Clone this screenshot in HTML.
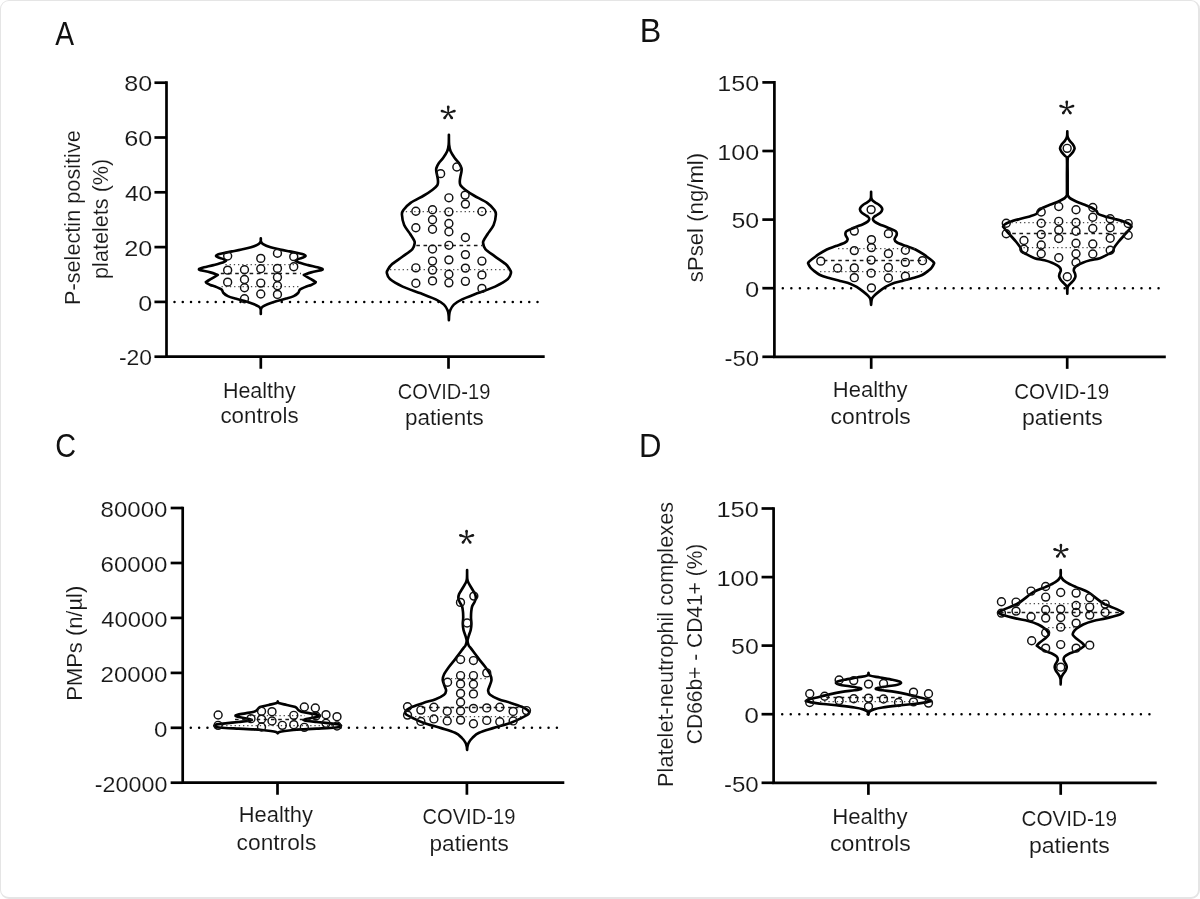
<!DOCTYPE html>
<html><head><meta charset="utf-8"><title>Figure</title>
<style>
html,body{margin:0;padding:0;background:#fff;}
body{width:1200px;height:899px;overflow:hidden;font-family:"Liberation Sans",sans-serif;}
#frame{position:absolute;left:0;top:0;width:1197px;height:896px;border:solid #e5e5e5;border-width:1px 2px 2px 1px;border-radius:9px;box-sizing:content-box;background:#fff;}
svg{position:absolute;left:0;top:0;will-change:transform;}
svg text{font-family:"Liberation Sans",sans-serif;stroke:#fff;stroke-width:0.11px;paint-order:fill stroke;}
</style></head><body>
<div id="frame"></div>
<svg width="1200" height="899" viewBox="0 0 1200 899">
<text transform="translate(55.25,44.75) scale(0.8544,1)" font-size="33" fill="#111" style="stroke:none">A</text>
<text transform="translate(639.67,42.00) scale(0.9771,1)" font-size="33" fill="#111" style="stroke:none">B</text>
<text transform="translate(55.31,457.30) scale(0.8453,1)" font-size="34" fill="#111" style="stroke:none">C</text>
<text transform="translate(639.01,457.00) scale(0.9422,1)" font-size="33" fill="#111" style="stroke:none">D</text>
<line x1="174.50" y1="301.90" x2="537.51" y2="301.90" stroke="#000" stroke-width="2.5" stroke-linecap="round" stroke-dasharray="0.01,8.240"/>
<path d="M260.80,238.30C260.82,238.82 260.57,240.42 260.95,241.40C261.33,242.38 261.49,243.22 263.10,244.20C264.71,245.18 267.78,246.42 270.60,247.30C273.42,248.18 276.87,248.82 280.00,249.50C283.13,250.18 286.28,250.78 289.40,251.40C292.53,252.03 296.37,252.73 298.75,253.25C301.13,253.77 302.56,254.03 303.70,254.50C304.84,254.97 305.70,255.58 305.60,256.10C305.50,256.62 304.25,257.13 303.10,257.60C301.95,258.07 299.95,258.38 298.70,258.90C297.45,259.42 296.12,260.44 295.60,260.75C296.12,261.06 296.62,261.88 298.70,262.60C300.78,263.33 304.97,264.32 308.10,265.10C311.23,265.88 315.18,266.70 317.50,267.30C319.82,267.90 321.17,268.37 322.00,268.70C322.83,269.03 322.62,269.07 322.50,269.30C322.38,269.53 323.18,269.58 321.30,270.10C319.43,270.62 314.17,271.60 311.25,272.40C308.33,273.20 305.04,274.48 303.80,274.90C304.83,275.52 308.13,277.50 310.00,278.60C311.87,279.70 314.07,280.90 315.00,281.50C315.93,282.10 315.72,281.88 315.60,282.20C315.48,282.52 315.03,282.95 314.30,283.40C313.57,283.85 312.80,284.28 311.25,284.90C309.70,285.52 306.88,286.32 305.00,287.10C303.12,287.88 301.15,288.62 300.00,289.60C298.85,290.58 299.14,291.92 298.10,293.00C297.06,294.08 295.73,295.17 293.75,296.10C291.77,297.03 289.06,297.77 286.25,298.60C283.44,299.43 280.03,300.16 276.90,301.10C273.78,302.04 269.90,303.31 267.50,304.25C265.10,305.19 263.59,305.92 262.50,306.75C261.41,307.58 261.23,308.06 260.95,309.25C260.67,310.44 260.82,313.12 260.80,313.90C260.78,313.12 260.93,310.44 260.65,309.25C260.37,308.06 260.19,307.58 259.10,306.75C258.01,305.92 256.50,305.19 254.10,304.25C251.70,303.31 247.82,302.04 244.70,301.10C241.57,300.16 238.16,299.43 235.35,298.60C232.54,297.77 229.83,297.03 227.85,296.10C225.88,295.17 224.54,294.08 223.50,293.00C222.46,291.92 222.75,290.58 221.60,289.60C220.45,288.62 218.48,287.88 216.60,287.10C214.73,286.32 211.90,285.52 210.35,284.90C208.80,284.28 208.03,283.85 207.30,283.40C206.58,282.95 206.12,282.52 206.00,282.20C205.88,281.88 205.67,282.10 206.60,281.50C207.53,280.90 209.73,279.70 211.60,278.60C213.47,277.50 216.77,275.52 217.80,274.90C216.56,274.48 213.27,273.20 210.35,272.40C207.43,271.60 202.18,270.62 200.30,270.10C198.43,269.58 199.22,269.53 199.10,269.30C198.98,269.07 198.77,269.03 199.60,268.70C200.43,268.37 201.78,267.90 204.10,267.30C206.42,266.70 210.37,265.88 213.50,265.10C216.63,264.32 220.82,263.33 222.90,262.60C224.98,261.88 225.48,261.06 226.00,260.75C225.48,260.44 224.15,259.42 222.90,258.90C221.65,258.38 219.65,258.07 218.50,257.60C217.35,257.13 216.10,256.62 216.00,256.10C215.90,255.58 216.76,254.97 217.90,254.50C219.04,254.03 220.47,253.77 222.85,253.25C225.23,252.73 229.07,252.03 232.20,251.40C235.32,250.78 238.47,250.18 241.60,249.50C244.73,248.82 248.18,248.18 251.00,247.30C253.82,246.42 256.89,245.18 258.50,244.20C260.11,243.22 260.27,242.38 260.65,241.40C261.03,240.42 260.78,238.82 260.80,238.30Z" fill="#fff" stroke="#000" stroke-width="2.65" stroke-linejoin="round" stroke-linecap="round"/>
<line x1="225.40" y1="264.50" x2="298.80" y2="264.50" stroke="#4a4a4a" stroke-width="1.25" stroke-dasharray="1.3,2.9"/>
<line x1="220.80" y1="273.50" x2="300.80" y2="273.50" stroke="#1a1a1a" stroke-width="1.35" stroke-dasharray="3.6,3.6"/>
<line x1="221.50" y1="286.50" x2="300.00" y2="286.50" stroke="#4a4a4a" stroke-width="1.25" stroke-dasharray="1.3,2.9"/>
<circle cx="227.66" cy="255.97" r="3.95" fill="none" stroke="#111" stroke-width="1.45"/>
<circle cx="227.66" cy="270.13" r="3.95" fill="none" stroke="#111" stroke-width="1.45"/>
<circle cx="227.66" cy="282.14" r="3.95" fill="none" stroke="#111" stroke-width="1.45"/>
<circle cx="244.49" cy="269.73" r="3.95" fill="none" stroke="#111" stroke-width="1.45"/>
<circle cx="244.49" cy="279.47" r="3.95" fill="none" stroke="#111" stroke-width="1.45"/>
<circle cx="244.49" cy="287.75" r="3.95" fill="none" stroke="#111" stroke-width="1.45"/>
<circle cx="244.49" cy="298.70" r="3.95" fill="none" stroke="#111" stroke-width="1.45"/>
<circle cx="260.77" cy="258.38" r="3.95" fill="none" stroke="#111" stroke-width="1.45"/>
<circle cx="260.77" cy="268.79" r="3.95" fill="none" stroke="#111" stroke-width="1.45"/>
<circle cx="260.77" cy="283.08" r="3.95" fill="none" stroke="#111" stroke-width="1.45"/>
<circle cx="260.77" cy="294.03" r="3.95" fill="none" stroke="#111" stroke-width="1.45"/>
<circle cx="277.46" cy="253.30" r="3.95" fill="none" stroke="#111" stroke-width="1.45"/>
<circle cx="277.46" cy="268.39" r="3.95" fill="none" stroke="#111" stroke-width="1.45"/>
<circle cx="277.46" cy="277.34" r="3.95" fill="none" stroke="#111" stroke-width="1.45"/>
<circle cx="277.46" cy="285.75" r="3.95" fill="none" stroke="#111" stroke-width="1.45"/>
<circle cx="277.46" cy="294.43" r="3.95" fill="none" stroke="#111" stroke-width="1.45"/>
<circle cx="293.75" cy="256.64" r="3.95" fill="none" stroke="#111" stroke-width="1.45"/>
<circle cx="293.75" cy="266.79" r="3.95" fill="none" stroke="#111" stroke-width="1.45"/>
<path d="M448.90,134.80C448.93,136.45 448.82,141.95 449.10,144.70C449.38,147.45 449.67,149.08 450.60,151.30C451.53,153.52 453.32,156.05 454.70,158.00C456.08,159.95 457.78,161.33 458.90,163.00C460.02,164.67 460.97,166.62 461.40,168.00C461.83,169.38 461.65,169.92 461.50,171.30C461.35,172.68 460.78,174.68 460.50,176.30C460.22,177.92 459.80,179.50 459.80,181.00C459.80,182.50 459.60,183.85 460.50,185.30C461.40,186.75 462.97,188.00 465.20,189.70C467.43,191.40 470.23,193.30 473.90,195.50C477.57,197.70 483.79,200.48 487.20,202.90C490.61,205.32 492.94,208.08 494.38,210.02C495.83,211.95 496.01,212.02 495.89,214.52C495.76,217.02 495.01,221.78 493.63,225.03C492.26,228.28 489.25,231.54 487.63,234.04C486.00,236.54 484.62,238.54 483.87,240.05C483.12,241.55 482.87,241.55 483.12,243.05C483.37,244.55 483.37,246.80 485.38,249.05C487.38,251.31 491.76,254.06 495.14,256.56C498.51,259.06 503.14,261.82 505.65,264.07C508.15,266.32 509.27,268.57 510.15,270.08C511.03,271.58 511.28,271.58 510.90,273.08C510.53,274.58 510.53,276.83 507.90,279.08C505.27,281.34 500.27,284.21 495.14,286.59C490.01,288.97 482.62,291.22 477.12,293.35C471.61,295.48 465.98,297.48 462.10,299.35C458.22,301.23 455.85,302.73 453.84,304.61C451.84,306.49 450.87,308.86 450.09,310.62C449.31,312.37 449.39,313.54 449.19,315.12C448.99,316.71 448.94,319.29 448.89,320.13C448.84,319.29 448.81,316.71 448.61,315.12C448.41,313.54 448.49,312.37 447.71,310.62C446.93,308.86 445.96,306.49 443.96,304.61C441.95,302.73 439.58,301.23 435.70,299.35C431.82,297.48 426.19,295.48 420.68,293.35C415.18,291.22 407.79,288.97 402.66,286.59C397.53,284.21 392.53,281.34 389.90,279.08C387.27,276.83 387.27,274.58 386.90,273.08C386.52,271.58 386.77,271.58 387.65,270.08C388.53,268.57 389.65,266.32 392.15,264.07C394.66,261.82 399.29,259.06 402.66,256.56C406.04,254.06 410.42,251.31 412.42,249.05C414.43,246.80 414.43,244.55 414.68,243.05C414.93,241.55 414.68,241.55 413.93,240.05C413.18,238.54 411.80,236.54 410.17,234.04C408.55,231.54 405.54,228.28 404.17,225.03C402.79,221.78 402.04,217.02 401.91,214.52C401.79,212.02 401.97,211.95 403.42,210.02C404.86,208.08 407.19,205.32 410.60,202.90C414.01,200.48 420.23,197.70 423.90,195.50C427.57,193.30 430.37,191.40 432.60,189.70C434.83,188.00 436.40,186.75 437.30,185.30C438.20,183.85 438.00,182.50 438.00,181.00C438.00,179.50 437.58,177.92 437.30,176.30C437.02,174.68 436.45,172.68 436.30,171.30C436.15,169.92 435.97,169.38 436.40,168.00C436.83,166.62 437.78,164.67 438.90,163.00C440.02,161.33 441.72,159.95 443.10,158.00C444.48,156.05 446.27,153.52 447.20,151.30C448.13,149.08 448.42,147.45 448.70,144.70C448.98,141.95 448.87,136.45 448.90,134.80Z" fill="#fff" stroke="#000" stroke-width="2.65" stroke-linejoin="round" stroke-linecap="round"/>
<line x1="405.80" y1="211.50" x2="493.63" y2="211.50" stroke="#4a4a4a" stroke-width="1.25" stroke-dasharray="1.3,2.9"/>
<line x1="416.31" y1="245.50" x2="482.37" y2="245.50" stroke="#1a1a1a" stroke-width="1.35" stroke-dasharray="3.6,3.6"/>
<line x1="390.03" y1="269.50" x2="508.65" y2="269.50" stroke="#4a4a4a" stroke-width="1.25" stroke-dasharray="1.3,2.9"/>
<circle cx="456.85" cy="167.03" r="3.95" fill="none" stroke="#111" stroke-width="1.45"/>
<circle cx="440.63" cy="173.63" r="3.95" fill="none" stroke="#111" stroke-width="1.45"/>
<circle cx="448.89" cy="197.81" r="3.95" fill="none" stroke="#111" stroke-width="1.45"/>
<circle cx="465.11" cy="195.11" r="3.95" fill="none" stroke="#111" stroke-width="1.45"/>
<circle cx="465.41" cy="204.11" r="3.95" fill="none" stroke="#111" stroke-width="1.45"/>
<circle cx="415.86" cy="211.22" r="3.95" fill="none" stroke="#111" stroke-width="1.45"/>
<circle cx="415.86" cy="227.73" r="3.95" fill="none" stroke="#111" stroke-width="1.45"/>
<circle cx="415.86" cy="267.82" r="3.95" fill="none" stroke="#111" stroke-width="1.45"/>
<circle cx="415.86" cy="283.29" r="3.95" fill="none" stroke="#111" stroke-width="1.45"/>
<circle cx="432.52" cy="209.71" r="3.95" fill="none" stroke="#111" stroke-width="1.45"/>
<circle cx="432.52" cy="219.77" r="3.95" fill="none" stroke="#111" stroke-width="1.45"/>
<circle cx="432.52" cy="229.23" r="3.95" fill="none" stroke="#111" stroke-width="1.45"/>
<circle cx="432.52" cy="249.05" r="3.95" fill="none" stroke="#111" stroke-width="1.45"/>
<circle cx="432.52" cy="261.07" r="3.95" fill="none" stroke="#111" stroke-width="1.45"/>
<circle cx="432.52" cy="270.08" r="3.95" fill="none" stroke="#111" stroke-width="1.45"/>
<circle cx="432.52" cy="280.89" r="3.95" fill="none" stroke="#111" stroke-width="1.45"/>
<circle cx="448.89" cy="211.82" r="3.95" fill="none" stroke="#111" stroke-width="1.45"/>
<circle cx="448.89" cy="223.53" r="3.95" fill="none" stroke="#111" stroke-width="1.45"/>
<circle cx="448.89" cy="231.79" r="3.95" fill="none" stroke="#111" stroke-width="1.45"/>
<circle cx="448.89" cy="245.30" r="3.95" fill="none" stroke="#111" stroke-width="1.45"/>
<circle cx="448.89" cy="259.86" r="3.95" fill="none" stroke="#111" stroke-width="1.45"/>
<circle cx="448.89" cy="274.28" r="3.95" fill="none" stroke="#111" stroke-width="1.45"/>
<circle cx="448.89" cy="282.84" r="3.95" fill="none" stroke="#111" stroke-width="1.45"/>
<circle cx="465.41" cy="237.49" r="3.95" fill="none" stroke="#111" stroke-width="1.45"/>
<circle cx="465.41" cy="254.61" r="3.95" fill="none" stroke="#111" stroke-width="1.45"/>
<circle cx="465.41" cy="268.12" r="3.95" fill="none" stroke="#111" stroke-width="1.45"/>
<circle cx="465.41" cy="281.34" r="3.95" fill="none" stroke="#111" stroke-width="1.45"/>
<circle cx="481.92" cy="211.52" r="3.95" fill="none" stroke="#111" stroke-width="1.45"/>
<circle cx="481.92" cy="261.07" r="3.95" fill="none" stroke="#111" stroke-width="1.45"/>
<circle cx="481.92" cy="274.88" r="3.95" fill="none" stroke="#111" stroke-width="1.45"/>
<circle cx="481.92" cy="288.39" r="3.95" fill="none" stroke="#111" stroke-width="1.45"/>
<path d="M166.50,81.35V356.70H544.70" fill="none" stroke="#000" stroke-width="2.7" stroke-linejoin="miter"/>
<path d="M165.15,358.05h2.7" stroke="#000" stroke-width="0"/>
<line x1="154.45" y1="82.70" x2="166.50" y2="82.70" stroke="#000" stroke-width="2.7"/>
<line x1="154.45" y1="137.50" x2="166.50" y2="137.50" stroke="#000" stroke-width="2.7"/>
<line x1="154.45" y1="192.30" x2="166.50" y2="192.30" stroke="#000" stroke-width="2.7"/>
<line x1="154.45" y1="247.10" x2="166.50" y2="247.10" stroke="#000" stroke-width="2.7"/>
<line x1="154.45" y1="301.90" x2="166.50" y2="301.90" stroke="#000" stroke-width="2.7"/>
<line x1="154.45" y1="356.70" x2="166.50" y2="356.70" stroke="#000" stroke-width="2.7"/>
<line x1="260.80" y1="356.70" x2="260.80" y2="368.75" stroke="#000" stroke-width="2.7"/>
<line x1="448.50" y1="356.70" x2="448.50" y2="368.75" stroke="#000" stroke-width="2.7"/>
<text transform="translate(124.27,91.30) scale(1.1176,1)" font-size="22.5" fill="#181818">80</text>
<text transform="translate(124.14,146.10) scale(1.1230,1)" font-size="22.5" fill="#181818">60</text>
<text transform="translate(124.91,200.90) scale(1.0911,1)" font-size="22.5" fill="#181818">40</text>
<text transform="translate(124.14,255.70) scale(1.1230,1)" font-size="22.5" fill="#181818">20</text>
<text transform="translate(138.19,310.50) scale(1.1204,1)" font-size="22.5" fill="#181818">0</text>
<text transform="translate(118.97,365.30) scale(1.0191,1)" font-size="22.5" fill="#181818">-20</text>
<text transform="translate(222.88,397.50) scale(0.9778,1)" font-size="22" fill="#181818">Healthy</text>
<text transform="translate(220.41,423.40) scale(1.0166,1)" font-size="22" fill="#181818">controls</text>
<text transform="translate(397.80,399.10) scale(0.9131,1)" font-size="22" fill="#181818">COVID-19</text>
<text transform="translate(405.04,425.30) scale(1.0212,1)" font-size="22" fill="#181818">patients</text>
<text transform="translate(80.00,305.04) rotate(-90) scale(0.9870,1)" font-size="22" fill="#181818">P-selectin positive</text>
<text transform="translate(108.00,278.91) rotate(-90) scale(0.9836,1)" font-size="22" fill="#181818">platelets (%)</text>
<path d="M448.85,113.00 L449.50,106.70 L446.90,106.70 L447.55,113.00Z" fill="#181818"/>
<circle cx="448.20" cy="106.70" r="1.3" fill="#181818"/>
<path d="M448.40,113.62 L454.88,112.20 L454.08,109.72 L448.00,112.38Z" fill="#181818"/>
<circle cx="454.48" cy="110.96" r="1.3" fill="#181818"/>
<path d="M448.40,112.38 L442.32,109.72 L441.52,112.20 L448.00,113.62Z" fill="#181818"/>
<circle cx="441.92" cy="110.96" r="1.3" fill="#181818"/>
<path d="M447.67,113.38 L450.79,118.78 L452.90,117.25 L448.73,112.62Z" fill="#181818"/>
<circle cx="451.84" cy="118.02" r="1.3" fill="#181818"/>
<path d="M447.67,112.62 L443.50,117.25 L445.61,118.78 L448.73,113.38Z" fill="#181818"/>
<circle cx="444.56" cy="118.02" r="1.3" fill="#181818"/>
<line x1="782.80" y1="288.20" x2="1158.57" y2="288.20" stroke="#000" stroke-width="2.5" stroke-linecap="round" stroke-dasharray="0.01,8.530"/>
<path d="M871.10,191.82C871.13,192.80 871.02,196.29 871.25,197.73C871.48,199.16 871.83,199.66 872.45,200.43C873.08,201.21 873.88,201.63 875.01,202.39C876.13,203.14 878.11,204.09 879.21,204.94C880.31,205.79 881.12,206.74 881.62,207.49C882.12,208.25 882.37,208.62 882.22,209.45C882.07,210.27 881.57,211.53 880.72,212.45C879.86,213.38 878.19,214.30 877.11,215.01C876.03,215.71 874.96,215.98 874.26,216.66C873.55,217.33 872.85,218.24 872.90,219.06C872.95,219.89 873.50,220.77 874.56,221.62C875.61,222.47 877.06,223.19 879.21,224.17C881.37,225.15 884.72,226.30 887.48,227.48C890.23,228.65 894.21,229.98 895.74,231.23C897.27,232.48 896.84,233.64 896.64,234.99C896.44,236.34 894.46,238.09 894.54,239.34C894.61,240.60 895.11,241.37 897.09,242.50C899.07,243.63 903.35,244.93 906.41,246.11C909.46,247.28 912.59,248.21 915.42,249.56C918.25,250.91 920.90,252.59 923.38,254.22C925.86,255.85 928.57,257.97 930.29,259.33C932.02,260.68 933.15,261.58 933.75,262.33C934.35,263.08 934.23,262.98 933.90,263.83C933.57,264.69 932.62,266.36 931.80,267.44C930.97,268.52 930.55,269.04 928.94,270.29C927.34,271.55 924.96,273.62 922.18,274.95C919.40,276.28 915.60,277.26 912.27,278.26C908.94,279.26 905.56,280.06 902.20,280.96C898.84,281.86 894.91,282.66 892.13,283.67C889.35,284.67 887.73,285.64 885.52,286.97C883.32,288.30 880.79,290.18 878.91,291.63C877.03,293.08 875.43,294.46 874.26,295.69C873.08,296.91 872.38,297.45 871.85,298.99C871.33,300.53 871.23,303.92 871.10,304.90C870.97,303.92 870.87,300.53 870.35,298.99C869.82,297.45 869.12,296.91 867.94,295.69C866.77,294.46 865.17,293.08 863.29,291.63C861.41,290.18 858.88,288.30 856.68,286.97C854.47,285.64 852.85,284.67 850.07,283.67C847.29,282.66 843.36,281.86 840.00,280.96C836.64,280.06 833.26,279.26 829.93,278.26C826.60,277.26 822.80,276.28 820.02,274.95C817.24,273.62 814.86,271.55 813.26,270.29C811.65,269.04 811.23,268.52 810.40,267.44C809.58,266.36 808.63,264.69 808.30,263.83C807.97,262.98 807.85,263.08 808.45,262.33C809.05,261.58 810.18,260.68 811.91,259.33C813.63,257.97 816.34,255.85 818.82,254.22C821.30,252.59 823.95,250.91 826.78,249.56C829.61,248.21 832.74,247.28 835.79,246.11C838.85,244.93 843.13,243.63 845.11,242.50C847.09,241.37 847.59,240.60 847.66,239.34C847.74,238.09 845.76,236.34 845.56,234.99C845.36,233.64 844.93,232.48 846.46,231.23C847.99,229.98 851.97,228.65 854.72,227.48C857.48,226.30 860.83,225.15 862.99,224.17C865.14,223.19 866.59,222.47 867.64,221.62C868.70,220.77 869.25,219.89 869.30,219.06C869.35,218.24 868.65,217.33 867.94,216.66C867.24,215.98 866.17,215.71 865.09,215.01C864.01,214.30 862.34,213.38 861.48,212.45C860.63,211.53 860.13,210.27 859.98,209.45C859.83,208.62 860.08,208.25 860.58,207.49C861.08,206.74 861.89,205.79 862.99,204.94C864.09,204.09 866.07,203.14 867.19,202.39C868.32,201.63 869.12,201.21 869.75,200.43C870.37,199.66 870.72,199.16 870.95,197.73C871.18,196.29 871.07,192.80 871.10,191.82Z" fill="#fff" stroke="#000" stroke-width="2.65" stroke-linejoin="round" stroke-linecap="round"/>
<line x1="838.08" y1="248.50" x2="914.70" y2="248.50" stroke="#4a4a4a" stroke-width="1.25" stroke-dasharray="1.3,2.9"/>
<line x1="823.80" y1="260.50" x2="925.22" y2="260.50" stroke="#1a1a1a" stroke-width="1.35" stroke-dasharray="3.6,3.6"/>
<line x1="820.05" y1="271.50" x2="925.22" y2="271.50" stroke="#4a4a4a" stroke-width="1.25" stroke-dasharray="1.3,2.9"/>
<circle cx="871.13" cy="209.60" r="3.95" fill="none" stroke="#111" stroke-width="1.45"/>
<circle cx="854.30" cy="231.08" r="3.95" fill="none" stroke="#111" stroke-width="1.45"/>
<circle cx="888.41" cy="233.64" r="3.95" fill="none" stroke="#111" stroke-width="1.45"/>
<circle cx="871.43" cy="239.65" r="3.95" fill="none" stroke="#111" stroke-width="1.45"/>
<circle cx="871.43" cy="247.61" r="3.95" fill="none" stroke="#111" stroke-width="1.45"/>
<circle cx="871.13" cy="260.08" r="3.95" fill="none" stroke="#111" stroke-width="1.45"/>
<circle cx="871.13" cy="273.15" r="3.95" fill="none" stroke="#111" stroke-width="1.45"/>
<circle cx="871.43" cy="287.87" r="3.95" fill="none" stroke="#111" stroke-width="1.45"/>
<circle cx="854.30" cy="250.61" r="3.95" fill="none" stroke="#111" stroke-width="1.45"/>
<circle cx="854.30" cy="267.89" r="3.95" fill="none" stroke="#111" stroke-width="1.45"/>
<circle cx="854.30" cy="277.66" r="3.95" fill="none" stroke="#111" stroke-width="1.45"/>
<circle cx="888.41" cy="253.62" r="3.95" fill="none" stroke="#111" stroke-width="1.45"/>
<circle cx="888.41" cy="267.44" r="3.95" fill="none" stroke="#111" stroke-width="1.45"/>
<circle cx="888.41" cy="277.96" r="3.95" fill="none" stroke="#111" stroke-width="1.45"/>
<circle cx="905.38" cy="250.31" r="3.95" fill="none" stroke="#111" stroke-width="1.45"/>
<circle cx="905.38" cy="262.33" r="3.95" fill="none" stroke="#111" stroke-width="1.45"/>
<circle cx="905.38" cy="276.15" r="3.95" fill="none" stroke="#111" stroke-width="1.45"/>
<circle cx="820.80" cy="261.13" r="3.95" fill="none" stroke="#111" stroke-width="1.45"/>
<circle cx="922.51" cy="260.68" r="3.95" fill="none" stroke="#111" stroke-width="1.45"/>
<circle cx="837.63" cy="268.19" r="3.95" fill="none" stroke="#111" stroke-width="1.45"/>
<path d="M1067.30,131.40C1067.35,132.25 1067.23,134.98 1067.60,136.50C1067.97,138.02 1068.63,139.20 1069.50,140.50C1070.37,141.80 1071.95,143.00 1072.80,144.30C1073.65,145.60 1074.60,146.97 1074.60,148.30C1074.60,149.63 1073.65,151.02 1072.80,152.30C1071.95,153.58 1070.35,154.95 1069.50,156.00C1068.65,157.05 1068.01,155.43 1067.70,158.60C1067.39,161.77 1067.66,169.18 1067.65,175.00C1067.64,180.82 1067.61,190.07 1067.65,193.50C1067.69,196.93 1067.52,194.83 1067.90,195.60C1068.27,196.37 1068.93,197.32 1069.90,198.10C1070.87,198.88 1072.03,199.47 1073.70,200.30C1075.37,201.13 1077.88,202.27 1079.90,203.10C1081.92,203.93 1083.82,204.52 1085.80,205.30C1087.78,206.08 1090.05,206.90 1091.80,207.80C1093.55,208.70 1095.22,209.67 1096.30,210.70C1097.38,211.73 1096.87,213.05 1098.30,214.00C1099.73,214.95 1102.13,215.57 1104.90,216.40C1107.67,217.23 1111.55,218.07 1114.90,219.00C1118.25,219.93 1122.43,221.05 1125.00,222.00C1127.57,222.95 1129.22,223.92 1130.30,224.70C1131.38,225.48 1131.30,226.37 1131.50,226.70C1130.97,227.37 1129.62,229.15 1128.30,230.70C1126.98,232.25 1125.27,234.12 1123.60,236.00C1121.93,237.88 1119.85,240.10 1118.30,242.00C1116.75,243.90 1115.20,245.83 1114.30,247.40C1113.40,248.97 1113.90,250.27 1112.90,251.40C1111.90,252.53 1110.45,253.07 1108.30,254.20C1106.15,255.33 1103.03,257.18 1100.00,258.20C1096.97,259.22 1092.98,259.55 1090.10,260.30C1087.22,261.05 1084.75,261.88 1082.70,262.70C1080.65,263.52 1079.17,264.33 1077.80,265.20C1076.43,266.07 1075.17,266.98 1074.50,267.90C1073.83,268.82 1073.70,269.72 1073.80,270.70C1073.90,271.68 1074.83,272.78 1075.10,273.80C1075.37,274.82 1075.62,275.78 1075.40,276.80C1075.18,277.82 1074.52,278.88 1073.80,279.90C1073.08,280.92 1071.97,281.98 1071.10,282.90C1070.23,283.82 1069.19,284.58 1068.60,285.40C1068.01,286.22 1067.77,286.43 1067.55,287.80C1067.33,289.17 1067.34,292.63 1067.30,293.60C1067.26,292.63 1067.27,289.17 1067.05,287.80C1066.83,286.43 1066.59,286.22 1066.00,285.40C1065.41,284.58 1064.37,283.82 1063.50,282.90C1062.63,281.98 1061.52,280.92 1060.80,279.90C1060.08,278.88 1059.42,277.82 1059.20,276.80C1058.98,275.78 1059.23,274.82 1059.50,273.80C1059.77,272.78 1060.70,271.68 1060.80,270.70C1060.90,269.72 1060.77,268.82 1060.10,267.90C1059.43,266.98 1058.17,266.07 1056.80,265.20C1055.43,264.33 1053.95,263.52 1051.90,262.70C1049.85,261.88 1047.38,261.05 1044.50,260.30C1041.62,259.55 1037.63,259.22 1034.60,258.20C1031.57,257.18 1028.45,255.33 1026.30,254.20C1024.15,253.07 1022.70,252.53 1021.70,251.40C1020.70,250.27 1021.20,248.97 1020.30,247.40C1019.40,245.83 1017.85,243.90 1016.30,242.00C1014.75,240.10 1012.67,237.88 1011.00,236.00C1009.33,234.12 1007.62,232.25 1006.30,230.70C1004.98,229.15 1003.63,227.37 1003.10,226.70C1003.30,226.37 1003.22,225.48 1004.30,224.70C1005.38,223.92 1007.03,222.95 1009.60,222.00C1012.17,221.05 1016.35,219.93 1019.70,219.00C1023.05,218.07 1026.93,217.23 1029.70,216.40C1032.47,215.57 1034.87,214.95 1036.30,214.00C1037.73,213.05 1037.22,211.73 1038.30,210.70C1039.38,209.67 1041.05,208.70 1042.80,207.80C1044.55,206.90 1046.82,206.08 1048.80,205.30C1050.78,204.52 1052.68,203.93 1054.70,203.10C1056.72,202.27 1059.23,201.13 1060.90,200.30C1062.57,199.47 1063.73,198.88 1064.70,198.10C1065.67,197.32 1066.33,196.37 1066.70,195.60C1067.08,194.83 1066.91,196.93 1066.95,193.50C1066.99,190.07 1066.96,180.82 1066.95,175.00C1066.94,169.18 1067.21,161.77 1066.90,158.60C1066.59,155.43 1065.95,157.05 1065.10,156.00C1064.25,154.95 1062.65,153.58 1061.80,152.30C1060.95,151.02 1060.00,149.63 1060.00,148.30C1060.00,146.97 1060.95,145.60 1061.80,144.30C1062.65,143.00 1064.23,141.80 1065.10,140.50C1065.97,139.20 1066.63,138.02 1067.00,136.50C1067.37,134.98 1067.25,132.25 1067.30,131.40Z" fill="#fff" stroke="#000" stroke-width="2.65" stroke-linejoin="round" stroke-linecap="round"/>
<line x1="1011.50" y1="222.50" x2="1123.99" y2="222.50" stroke="#4a4a4a" stroke-width="1.25" stroke-dasharray="1.3,2.9"/>
<line x1="1012.25" y1="233.50" x2="1123.99" y2="233.50" stroke="#1a1a1a" stroke-width="1.35" stroke-dasharray="3.6,3.6"/>
<line x1="1023.50" y1="247.50" x2="1110.49" y2="247.50" stroke="#4a4a4a" stroke-width="1.25" stroke-dasharray="1.3,2.9"/>
<circle cx="1067.17" cy="148.34" r="3.95" fill="none" stroke="#111" stroke-width="1.45"/>
<circle cx="1006.25" cy="223.25" r="3.95" fill="none" stroke="#111" stroke-width="1.45"/>
<circle cx="1006.25" cy="233.75" r="3.95" fill="none" stroke="#111" stroke-width="1.45"/>
<circle cx="1023.95" cy="240.50" r="3.95" fill="none" stroke="#111" stroke-width="1.45"/>
<circle cx="1023.95" cy="249.20" r="3.95" fill="none" stroke="#111" stroke-width="1.45"/>
<circle cx="1041.20" cy="212.00" r="3.95" fill="none" stroke="#111" stroke-width="1.45"/>
<circle cx="1041.20" cy="223.25" r="3.95" fill="none" stroke="#111" stroke-width="1.45"/>
<circle cx="1041.20" cy="234.50" r="3.95" fill="none" stroke="#111" stroke-width="1.45"/>
<circle cx="1041.20" cy="245.00" r="3.95" fill="none" stroke="#111" stroke-width="1.45"/>
<circle cx="1041.20" cy="253.70" r="3.95" fill="none" stroke="#111" stroke-width="1.45"/>
<circle cx="1058.75" cy="206.45" r="3.95" fill="none" stroke="#111" stroke-width="1.45"/>
<circle cx="1058.75" cy="221.30" r="3.95" fill="none" stroke="#111" stroke-width="1.45"/>
<circle cx="1058.75" cy="230.00" r="3.95" fill="none" stroke="#111" stroke-width="1.45"/>
<circle cx="1058.75" cy="238.55" r="3.95" fill="none" stroke="#111" stroke-width="1.45"/>
<circle cx="1058.75" cy="257.75" r="3.95" fill="none" stroke="#111" stroke-width="1.45"/>
<circle cx="1076.00" cy="209.75" r="3.95" fill="none" stroke="#111" stroke-width="1.45"/>
<circle cx="1076.00" cy="222.50" r="3.95" fill="none" stroke="#111" stroke-width="1.45"/>
<circle cx="1076.00" cy="231.20" r="3.95" fill="none" stroke="#111" stroke-width="1.45"/>
<circle cx="1076.00" cy="243.20" r="3.95" fill="none" stroke="#111" stroke-width="1.45"/>
<circle cx="1076.00" cy="253.70" r="3.95" fill="none" stroke="#111" stroke-width="1.45"/>
<circle cx="1076.00" cy="262.55" r="3.95" fill="none" stroke="#111" stroke-width="1.45"/>
<circle cx="1092.79" cy="207.50" r="3.95" fill="none" stroke="#111" stroke-width="1.45"/>
<circle cx="1092.79" cy="217.25" r="3.95" fill="none" stroke="#111" stroke-width="1.45"/>
<circle cx="1092.79" cy="228.50" r="3.95" fill="none" stroke="#111" stroke-width="1.45"/>
<circle cx="1092.79" cy="243.95" r="3.95" fill="none" stroke="#111" stroke-width="1.45"/>
<circle cx="1092.79" cy="254.00" r="3.95" fill="none" stroke="#111" stroke-width="1.45"/>
<circle cx="1110.19" cy="218.75" r="3.95" fill="none" stroke="#111" stroke-width="1.45"/>
<circle cx="1110.19" cy="227.75" r="3.95" fill="none" stroke="#111" stroke-width="1.45"/>
<circle cx="1110.19" cy="238.25" r="3.95" fill="none" stroke="#111" stroke-width="1.45"/>
<circle cx="1110.19" cy="250.25" r="3.95" fill="none" stroke="#111" stroke-width="1.45"/>
<circle cx="1128.19" cy="223.55" r="3.95" fill="none" stroke="#111" stroke-width="1.45"/>
<circle cx="1128.19" cy="235.25" r="3.95" fill="none" stroke="#111" stroke-width="1.45"/>
<circle cx="1067.30" cy="276.80" r="3.95" fill="none" stroke="#111" stroke-width="1.45"/>
<path d="M774.40,81.05V356.80H1165.80" fill="none" stroke="#000" stroke-width="2.7" stroke-linejoin="miter"/>
<path d="M773.05,358.15h2.7" stroke="#000" stroke-width="0"/>
<line x1="762.35" y1="82.40" x2="774.40" y2="82.40" stroke="#000" stroke-width="2.7"/>
<line x1="762.35" y1="151.00" x2="774.40" y2="151.00" stroke="#000" stroke-width="2.7"/>
<line x1="762.35" y1="219.60" x2="774.40" y2="219.60" stroke="#000" stroke-width="2.7"/>
<line x1="762.35" y1="288.20" x2="774.40" y2="288.20" stroke="#000" stroke-width="2.7"/>
<line x1="762.35" y1="356.80" x2="774.40" y2="356.80" stroke="#000" stroke-width="2.7"/>
<line x1="871.20" y1="356.80" x2="871.20" y2="368.85" stroke="#000" stroke-width="2.7"/>
<line x1="1067.20" y1="356.80" x2="1067.20" y2="368.85" stroke="#000" stroke-width="2.7"/>
<text transform="translate(717.31,91.10) scale(1.1175,1)" font-size="22.5" fill="#181818">150</text>
<text transform="translate(717.31,159.70) scale(1.1175,1)" font-size="22.5" fill="#181818">100</text>
<text transform="translate(731.50,228.30) scale(1.1079,1)" font-size="22.5" fill="#181818">50</text>
<text transform="translate(744.98,296.90) scale(1.1389,1)" font-size="22.5" fill="#181818">0</text>
<text transform="translate(724.42,365.50) scale(1.0680,1)" font-size="22.5" fill="#181818">-50</text>
<text transform="translate(832.74,397.30) scale(1.0025,1)" font-size="22" fill="#181818">Healthy</text>
<text transform="translate(830.58,423.50) scale(1.0418,1)" font-size="22" fill="#181818">controls</text>
<text transform="translate(1014.17,399.20) scale(0.9363,1)" font-size="22" fill="#181818">COVID-19</text>
<text transform="translate(1022.00,425.40) scale(1.0479,1)" font-size="22" fill="#181818">patients</text>
<text transform="translate(702.90,282.17) rotate(-90) scale(1.0081,1)" font-size="22" fill="#181818">sPsel (ng/ml)</text>
<path d="M1067.45,108.10 L1068.10,101.80 L1065.50,101.80 L1066.15,108.10Z" fill="#181818"/>
<circle cx="1066.80" cy="101.80" r="1.3" fill="#181818"/>
<path d="M1067.00,108.72 L1073.48,107.30 L1072.68,104.82 L1066.60,107.48Z" fill="#181818"/>
<circle cx="1073.08" cy="106.06" r="1.3" fill="#181818"/>
<path d="M1067.00,107.48 L1060.92,104.82 L1060.12,107.30 L1066.60,108.72Z" fill="#181818"/>
<circle cx="1060.52" cy="106.06" r="1.3" fill="#181818"/>
<path d="M1066.27,108.48 L1069.39,113.88 L1071.50,112.35 L1067.33,107.72Z" fill="#181818"/>
<circle cx="1070.44" cy="113.12" r="1.3" fill="#181818"/>
<path d="M1066.27,107.72 L1062.10,112.35 L1064.21,113.88 L1067.33,108.48Z" fill="#181818"/>
<circle cx="1063.16" cy="113.12" r="1.3" fill="#181818"/>
<line x1="190.80" y1="727.80" x2="556.89" y2="727.80" stroke="#000" stroke-width="2.5" stroke-linecap="round" stroke-dasharray="0.01,8.310"/>
<path d="M277.70,701.33C277.87,701.61 277.20,702.39 278.70,703.00C280.20,703.61 283.92,704.33 286.70,705.00C289.48,705.67 293.48,706.22 295.37,707.00C297.26,707.78 297.03,708.89 298.03,709.67C299.03,710.44 299.37,711.06 301.37,711.67C303.37,712.28 307.26,712.83 310.03,713.33C312.81,713.83 316.42,714.22 318.03,714.67C319.64,715.11 320.14,715.56 319.70,716.00C319.26,716.44 317.42,716.89 315.37,717.33C313.31,717.78 309.37,718.22 307.37,718.67C305.37,719.11 303.37,719.61 303.37,720.00C303.37,720.39 305.14,720.67 307.37,721.00C309.59,721.33 312.92,721.61 316.70,722.00C320.48,722.39 326.26,722.92 330.03,723.33C333.81,723.74 337.54,724.08 339.37,724.47C341.19,724.86 340.70,725.47 340.97,725.67C340.70,725.90 341.19,726.68 339.37,727.07C337.54,727.46 333.81,727.73 330.03,728.00C326.26,728.27 321.14,728.44 316.70,728.67C312.26,728.89 307.26,729.11 303.37,729.33C299.48,729.56 296.48,729.72 293.37,730.00C290.26,730.28 287.03,730.67 284.70,731.00C282.37,731.33 280.48,731.67 279.37,732.00C278.26,732.33 278.31,732.78 278.03,733.00C277.76,733.22 277.76,733.28 277.70,733.33C277.64,733.28 277.64,733.22 277.37,733.00C277.09,732.78 277.14,732.33 276.03,732.00C274.92,731.67 273.03,731.33 270.70,731.00C268.37,730.67 265.14,730.28 262.03,730.00C258.92,729.72 255.92,729.56 252.03,729.33C248.14,729.11 243.14,728.89 238.70,728.67C234.26,728.44 229.14,728.27 225.37,728.00C221.59,727.73 217.86,727.46 216.03,727.07C214.21,726.68 214.70,725.90 214.43,725.67C214.70,725.47 214.21,724.86 216.03,724.47C217.86,724.08 221.59,723.74 225.37,723.33C229.14,722.92 234.92,722.39 238.70,722.00C242.48,721.61 245.81,721.33 248.03,721.00C250.26,720.67 252.03,720.39 252.03,720.00C252.03,719.61 250.03,719.11 248.03,718.67C246.03,718.22 242.09,717.78 240.03,717.33C237.98,716.89 236.14,716.44 235.70,716.00C235.26,715.56 235.76,715.11 237.37,714.67C238.98,714.22 242.59,713.83 245.37,713.33C248.14,712.83 252.03,712.28 254.03,711.67C256.03,711.06 256.37,710.44 257.37,709.67C258.37,708.89 258.14,707.78 260.03,707.00C261.92,706.22 265.92,705.67 268.70,705.00C271.48,704.33 275.20,703.61 276.70,703.00C278.20,702.39 277.53,701.61 277.70,701.33Z" fill="#fff" stroke="#000" stroke-width="2.65" stroke-linejoin="round" stroke-linecap="round"/>
<line x1="250.00" y1="715.50" x2="305.00" y2="715.50" stroke="#4a4a4a" stroke-width="1.25" stroke-dasharray="1.3,2.9"/>
<line x1="235.00" y1="719.50" x2="320.00" y2="719.50" stroke="#1a1a1a" stroke-width="1.35" stroke-dasharray="3.6,3.6"/>
<line x1="222.00" y1="725.50" x2="333.00" y2="725.50" stroke="#4a4a4a" stroke-width="1.25" stroke-dasharray="1.3,2.9"/>
<circle cx="218.13" cy="715.00" r="3.95" fill="none" stroke="#111" stroke-width="1.45"/>
<circle cx="218.13" cy="725.33" r="3.95" fill="none" stroke="#111" stroke-width="1.45"/>
<circle cx="251.00" cy="718.67" r="3.95" fill="none" stroke="#111" stroke-width="1.45"/>
<circle cx="261.53" cy="711.20" r="3.95" fill="none" stroke="#111" stroke-width="1.45"/>
<circle cx="261.53" cy="719.13" r="3.95" fill="none" stroke="#111" stroke-width="1.45"/>
<circle cx="261.53" cy="727.00" r="3.95" fill="none" stroke="#111" stroke-width="1.45"/>
<circle cx="272.00" cy="711.67" r="3.95" fill="none" stroke="#111" stroke-width="1.45"/>
<circle cx="272.00" cy="721.00" r="3.95" fill="none" stroke="#111" stroke-width="1.45"/>
<circle cx="282.33" cy="725.33" r="3.95" fill="none" stroke="#111" stroke-width="1.45"/>
<circle cx="293.80" cy="715.33" r="3.95" fill="none" stroke="#111" stroke-width="1.45"/>
<circle cx="293.80" cy="724.67" r="3.95" fill="none" stroke="#111" stroke-width="1.45"/>
<circle cx="304.33" cy="707.00" r="3.95" fill="none" stroke="#111" stroke-width="1.45"/>
<circle cx="304.33" cy="727.33" r="3.95" fill="none" stroke="#111" stroke-width="1.45"/>
<circle cx="315.33" cy="708.00" r="3.95" fill="none" stroke="#111" stroke-width="1.45"/>
<circle cx="316.00" cy="716.00" r="3.95" fill="none" stroke="#111" stroke-width="1.45"/>
<circle cx="326.00" cy="714.67" r="3.95" fill="none" stroke="#111" stroke-width="1.45"/>
<circle cx="326.00" cy="723.33" r="3.95" fill="none" stroke="#111" stroke-width="1.45"/>
<circle cx="337.00" cy="716.67" r="3.95" fill="none" stroke="#111" stroke-width="1.45"/>
<circle cx="337.00" cy="726.00" r="3.95" fill="none" stroke="#111" stroke-width="1.45"/>
<path d="M467.10,570.00C467.13,571.50 467.05,576.83 467.30,579.00C467.55,581.17 467.80,581.33 468.60,583.00C469.40,584.67 471.02,587.17 472.10,589.00C473.18,590.83 474.48,592.42 475.10,594.00C475.72,595.58 475.93,597.08 475.80,598.50C475.67,599.92 474.92,601.17 474.30,602.50C473.68,603.83 472.62,604.92 472.10,606.50C471.58,608.08 471.38,610.08 471.20,612.00C471.02,613.92 470.97,616.00 471.00,618.00C471.03,620.00 471.45,622.00 471.40,624.00C471.35,626.00 471.15,628.00 470.70,630.00C470.25,632.00 469.23,634.17 468.70,636.00C468.18,637.83 467.55,639.42 467.55,641.00C467.55,642.58 468.14,644.27 468.70,645.50C469.26,646.73 469.31,646.22 470.94,648.37C472.56,650.52 476.08,655.32 478.44,658.38C480.81,661.44 483.17,664.08 485.12,666.72C487.06,669.36 489.07,672.01 490.12,674.23C491.18,676.46 491.60,677.98 491.46,680.07C491.32,682.16 489.84,684.94 489.29,686.74C488.73,688.55 487.98,689.58 488.12,690.91C488.26,692.25 488.37,693.36 490.12,694.75C491.87,696.14 495.27,697.92 498.63,699.26C502.00,700.59 506.44,701.51 510.31,702.76C514.17,704.01 518.93,705.54 521.82,706.76C524.71,707.99 526.44,709.13 527.66,710.10C528.88,711.07 529.16,711.82 529.16,712.60C529.16,713.38 528.88,713.91 527.66,714.77C526.44,715.63 524.71,716.41 521.82,717.77C518.93,719.14 515.12,721.22 510.31,722.95C505.50,724.67 498.16,726.48 492.96,728.12C487.76,729.76 482.50,731.20 479.11,732.79C475.72,734.37 474.33,735.99 472.61,737.63C470.88,739.27 469.63,741.10 468.77,742.63C467.91,744.16 467.71,745.58 467.43,746.80C467.16,748.03 467.16,749.45 467.10,749.97C467.04,749.45 467.04,748.03 466.77,746.80C466.49,745.58 466.29,744.16 465.43,742.63C464.57,741.10 463.32,739.27 461.59,737.63C459.87,735.99 458.48,734.37 455.09,732.79C451.70,731.20 446.44,729.76 441.24,728.12C436.04,726.48 428.70,724.67 423.89,722.95C419.08,721.22 415.27,719.14 412.38,717.77C409.49,716.41 407.76,715.63 406.54,714.77C405.32,713.91 405.04,713.38 405.04,712.60C405.04,711.82 405.32,711.07 406.54,710.10C407.76,709.13 409.49,707.99 412.38,706.76C415.27,705.54 420.03,704.01 423.89,702.76C427.76,701.51 432.20,700.59 435.57,699.26C438.93,697.92 442.33,696.14 444.08,694.75C445.83,693.36 445.94,692.25 446.08,690.91C446.22,689.58 445.47,688.55 444.91,686.74C444.36,684.94 442.88,682.16 442.74,680.07C442.60,677.98 443.02,676.46 444.08,674.23C445.13,672.01 447.14,669.36 449.08,666.72C451.03,664.08 453.39,661.44 455.76,658.38C458.12,655.32 461.64,650.52 463.26,648.37C464.89,646.22 464.94,646.73 465.50,645.50C466.06,644.27 466.65,642.58 466.65,641.00C466.65,639.42 466.02,637.83 465.50,636.00C464.98,634.17 463.95,632.00 463.50,630.00C463.05,628.00 462.85,626.00 462.80,624.00C462.75,622.00 463.17,620.00 463.20,618.00C463.23,616.00 463.18,613.92 463.00,612.00C462.82,610.08 462.62,608.08 462.10,606.50C461.58,604.92 460.52,603.83 459.90,602.50C459.28,601.17 458.53,599.92 458.40,598.50C458.27,597.08 458.48,595.58 459.10,594.00C459.72,592.42 461.02,590.83 462.10,589.00C463.18,587.17 464.80,584.67 465.60,583.00C466.40,581.33 466.65,581.17 466.90,579.00C467.15,576.83 467.07,571.50 467.10,570.00Z" fill="#fff" stroke="#000" stroke-width="2.65" stroke-linejoin="round" stroke-linecap="round"/>
<line x1="450.90" y1="678.50" x2="486.77" y2="678.50" stroke="#4a4a4a" stroke-width="1.25" stroke-dasharray="1.3,2.9"/>
<line x1="421.71" y1="707.50" x2="518.47" y2="707.50" stroke="#1a1a1a" stroke-width="1.35" stroke-dasharray="3.6,3.6"/>
<line x1="415.04" y1="716.50" x2="523.48" y2="716.50" stroke="#4a4a4a" stroke-width="1.25" stroke-dasharray="1.3,2.9"/>
<circle cx="473.85" cy="596.11" r="3.95" fill="none" stroke="#111" stroke-width="1.45"/>
<circle cx="460.49" cy="602.39" r="3.95" fill="none" stroke="#111" stroke-width="1.45"/>
<circle cx="467.09" cy="623.01" r="3.95" fill="none" stroke="#111" stroke-width="1.45"/>
<circle cx="460.58" cy="659.55" r="3.95" fill="none" stroke="#111" stroke-width="1.45"/>
<circle cx="473.43" cy="660.55" r="3.95" fill="none" stroke="#111" stroke-width="1.45"/>
<circle cx="486.77" cy="672.90" r="3.95" fill="none" stroke="#111" stroke-width="1.45"/>
<circle cx="460.58" cy="675.57" r="3.95" fill="none" stroke="#111" stroke-width="1.45"/>
<circle cx="473.43" cy="675.57" r="3.95" fill="none" stroke="#111" stroke-width="1.45"/>
<circle cx="447.57" cy="682.24" r="3.95" fill="none" stroke="#111" stroke-width="1.45"/>
<circle cx="460.58" cy="683.91" r="3.95" fill="none" stroke="#111" stroke-width="1.45"/>
<circle cx="473.43" cy="684.24" r="3.95" fill="none" stroke="#111" stroke-width="1.45"/>
<circle cx="460.58" cy="693.42" r="3.95" fill="none" stroke="#111" stroke-width="1.45"/>
<circle cx="473.43" cy="693.92" r="3.95" fill="none" stroke="#111" stroke-width="1.45"/>
<circle cx="460.58" cy="702.26" r="3.95" fill="none" stroke="#111" stroke-width="1.45"/>
<circle cx="460.58" cy="710.93" r="3.95" fill="none" stroke="#111" stroke-width="1.45"/>
<circle cx="473.43" cy="708.43" r="3.95" fill="none" stroke="#111" stroke-width="1.45"/>
<circle cx="486.77" cy="707.93" r="3.95" fill="none" stroke="#111" stroke-width="1.45"/>
<circle cx="499.79" cy="707.26" r="3.95" fill="none" stroke="#111" stroke-width="1.45"/>
<circle cx="407.53" cy="706.76" r="3.95" fill="none" stroke="#111" stroke-width="1.45"/>
<circle cx="407.53" cy="715.11" r="3.95" fill="none" stroke="#111" stroke-width="1.45"/>
<circle cx="420.87" cy="710.10" r="3.95" fill="none" stroke="#111" stroke-width="1.45"/>
<circle cx="420.87" cy="721.44" r="3.95" fill="none" stroke="#111" stroke-width="1.45"/>
<circle cx="433.89" cy="707.26" r="3.95" fill="none" stroke="#111" stroke-width="1.45"/>
<circle cx="433.89" cy="718.94" r="3.95" fill="none" stroke="#111" stroke-width="1.45"/>
<circle cx="447.23" cy="711.27" r="3.95" fill="none" stroke="#111" stroke-width="1.45"/>
<circle cx="447.23" cy="720.94" r="3.95" fill="none" stroke="#111" stroke-width="1.45"/>
<circle cx="460.58" cy="720.11" r="3.95" fill="none" stroke="#111" stroke-width="1.45"/>
<circle cx="473.43" cy="723.78" r="3.95" fill="none" stroke="#111" stroke-width="1.45"/>
<circle cx="486.77" cy="720.44" r="3.95" fill="none" stroke="#111" stroke-width="1.45"/>
<circle cx="499.79" cy="721.78" r="3.95" fill="none" stroke="#111" stroke-width="1.45"/>
<circle cx="513.13" cy="711.43" r="3.95" fill="none" stroke="#111" stroke-width="1.45"/>
<circle cx="513.13" cy="720.94" r="3.95" fill="none" stroke="#111" stroke-width="1.45"/>
<circle cx="526.48" cy="710.60" r="3.95" fill="none" stroke="#111" stroke-width="1.45"/>
<path d="M182.70,506.65V782.70H564.30" fill="none" stroke="#000" stroke-width="2.7" stroke-linejoin="miter"/>
<path d="M181.35,784.05h2.7" stroke="#000" stroke-width="0"/>
<line x1="170.65" y1="508.00" x2="182.70" y2="508.00" stroke="#000" stroke-width="2.7"/>
<line x1="170.65" y1="563.00" x2="182.70" y2="563.00" stroke="#000" stroke-width="2.7"/>
<line x1="170.65" y1="617.90" x2="182.70" y2="617.90" stroke="#000" stroke-width="2.7"/>
<line x1="170.65" y1="672.90" x2="182.70" y2="672.90" stroke="#000" stroke-width="2.7"/>
<line x1="170.65" y1="727.80" x2="182.70" y2="727.80" stroke="#000" stroke-width="2.7"/>
<line x1="170.65" y1="782.70" x2="182.70" y2="782.70" stroke="#000" stroke-width="2.7"/>
<line x1="277.50" y1="782.70" x2="277.50" y2="794.75" stroke="#000" stroke-width="2.7"/>
<line x1="466.90" y1="782.70" x2="466.90" y2="794.75" stroke="#000" stroke-width="2.7"/>
<text transform="translate(100.62,516.80) scale(1.0683,1)" font-size="22.5" fill="#181818">80000</text>
<text transform="translate(100.50,571.80) scale(1.0703,1)" font-size="22.5" fill="#181818">60000</text>
<text transform="translate(101.22,626.70) scale(1.0585,1)" font-size="22.5" fill="#181818">40000</text>
<text transform="translate(100.50,681.70) scale(1.0703,1)" font-size="22.5" fill="#181818">20000</text>
<text transform="translate(154.03,736.60) scale(1.0741,1)" font-size="22.5" fill="#181818">0</text>
<text transform="translate(94.75,791.50) scale(1.0368,1)" font-size="22.5" fill="#181818">-20000</text>
<text transform="translate(238.75,822.30) scale(0.9956,1)" font-size="22" fill="#181818">Healthy</text>
<text transform="translate(236.59,849.50) scale(1.0352,1)" font-size="22" fill="#181818">controls</text>
<text transform="translate(422.49,824.40) scale(0.9161,1)" font-size="22" fill="#181818">COVID-19</text>
<text transform="translate(429.53,851.30) scale(1.0279,1)" font-size="22" fill="#181818">patients</text>
<text transform="translate(81.70,700.65) rotate(-90) scale(0.9964,1)" font-size="22" fill="#181818">PMPs (n/µl)</text>
<path d="M467.25,537.40 L467.90,531.10 L465.30,531.10 L465.95,537.40Z" fill="#181818"/>
<circle cx="466.60" cy="531.10" r="1.3" fill="#181818"/>
<path d="M466.80,538.02 L473.28,536.60 L472.48,534.12 L466.40,536.78Z" fill="#181818"/>
<circle cx="472.88" cy="535.36" r="1.3" fill="#181818"/>
<path d="M466.80,536.78 L460.72,534.12 L459.92,536.60 L466.40,538.02Z" fill="#181818"/>
<circle cx="460.32" cy="535.36" r="1.3" fill="#181818"/>
<path d="M466.07,537.78 L469.19,543.18 L471.30,541.65 L467.13,537.02Z" fill="#181818"/>
<circle cx="470.24" cy="542.42" r="1.3" fill="#181818"/>
<path d="M466.07,537.02 L461.90,541.65 L464.01,543.18 L467.13,537.78Z" fill="#181818"/>
<circle cx="462.96" cy="542.42" r="1.3" fill="#181818"/>
<line x1="782.20" y1="714.20" x2="1149.43" y2="714.20" stroke="#000" stroke-width="2.5" stroke-linecap="round" stroke-dasharray="0.01,8.530"/>
<path d="M868.50,672.88C868.75,673.33 868.08,674.85 870.00,675.62C871.92,676.40 876.25,676.81 880.00,677.50C883.75,678.19 889.27,679.08 892.50,679.75C895.73,680.42 897.96,680.94 899.38,681.50C900.79,682.06 901.31,682.58 901.00,683.12C900.69,683.67 899.75,684.23 897.50,684.75C895.25,685.27 890.73,685.75 887.50,686.25C884.27,686.75 880.04,687.29 878.12,687.75C876.21,688.21 875.27,688.58 876.00,689.00C876.73,689.42 879.33,689.77 882.50,690.25C885.67,690.73 890.83,691.19 895.00,691.88C899.17,692.56 903.33,693.44 907.50,694.38C911.67,695.31 916.46,696.60 920.00,697.50C923.54,698.40 926.88,699.15 928.75,699.75C930.62,700.35 930.83,700.90 931.25,701.12C930.42,701.33 929.17,701.90 926.25,702.38C923.33,702.85 918.54,703.46 913.75,704.00C908.96,704.54 902.71,705.04 897.50,705.62C892.29,706.21 886.46,706.88 882.50,707.50C878.54,708.12 875.83,708.75 873.75,709.38C871.67,710.00 870.83,710.62 870.00,711.25C869.17,711.88 869.00,712.56 868.75,713.12C868.50,713.69 868.54,714.38 868.50,714.62C868.46,714.38 868.50,713.69 868.25,713.12C868.00,712.56 867.83,711.88 867.00,711.25C866.17,710.62 865.33,710.00 863.25,709.38C861.17,708.75 858.46,708.12 854.50,707.50C850.54,706.88 844.71,706.21 839.50,705.62C834.29,705.04 828.04,704.54 823.25,704.00C818.46,703.46 813.67,702.85 810.75,702.38C807.83,701.90 806.58,701.33 805.75,701.12C806.17,700.90 806.38,700.35 808.25,699.75C810.12,699.15 813.46,698.40 817.00,697.50C820.54,696.60 825.33,695.31 829.50,694.38C833.67,693.44 837.83,692.56 842.00,691.88C846.17,691.19 851.33,690.73 854.50,690.25C857.67,689.77 860.27,689.42 861.00,689.00C861.73,688.58 860.79,688.21 858.88,687.75C856.96,687.29 852.73,686.75 849.50,686.25C846.27,685.75 841.75,685.27 839.50,684.75C837.25,684.23 836.31,683.67 836.00,683.12C835.69,682.58 836.21,682.06 837.62,681.50C839.04,680.94 841.27,680.42 844.50,679.75C847.73,679.08 853.25,678.19 857.00,677.50C860.75,676.81 865.08,676.40 867.00,675.62C868.92,674.85 868.25,673.33 868.50,672.88Z" fill="#fff" stroke="#000" stroke-width="2.65" stroke-linejoin="round" stroke-linecap="round"/>
<line x1="826.25" y1="697.50" x2="905.00" y2="697.50" stroke="#1a1a1a" stroke-width="1.35" stroke-dasharray="3.6,3.6"/>
<line x1="820.00" y1="701.50" x2="915.00" y2="701.50" stroke="#4a4a4a" stroke-width="1.25" stroke-dasharray="1.3,2.9"/>
<circle cx="809.75" cy="693.75" r="3.95" fill="none" stroke="#111" stroke-width="1.45"/>
<circle cx="809.75" cy="702.50" r="3.95" fill="none" stroke="#111" stroke-width="1.45"/>
<circle cx="824.62" cy="696.25" r="3.95" fill="none" stroke="#111" stroke-width="1.45"/>
<circle cx="839.12" cy="680.00" r="3.95" fill="none" stroke="#111" stroke-width="1.45"/>
<circle cx="839.12" cy="700.62" r="3.95" fill="none" stroke="#111" stroke-width="1.45"/>
<circle cx="853.75" cy="680.62" r="3.95" fill="none" stroke="#111" stroke-width="1.45"/>
<circle cx="853.75" cy="698.75" r="3.95" fill="none" stroke="#111" stroke-width="1.45"/>
<circle cx="868.50" cy="684.12" r="3.95" fill="none" stroke="#111" stroke-width="1.45"/>
<circle cx="868.50" cy="698.12" r="3.95" fill="none" stroke="#111" stroke-width="1.45"/>
<circle cx="868.50" cy="706.62" r="3.95" fill="none" stroke="#111" stroke-width="1.45"/>
<circle cx="883.50" cy="683.50" r="3.95" fill="none" stroke="#111" stroke-width="1.45"/>
<circle cx="883.50" cy="699.00" r="3.95" fill="none" stroke="#111" stroke-width="1.45"/>
<circle cx="898.50" cy="702.50" r="3.95" fill="none" stroke="#111" stroke-width="1.45"/>
<circle cx="913.50" cy="692.12" r="3.95" fill="none" stroke="#111" stroke-width="1.45"/>
<circle cx="913.50" cy="701.88" r="3.95" fill="none" stroke="#111" stroke-width="1.45"/>
<circle cx="928.50" cy="693.75" r="3.95" fill="none" stroke="#111" stroke-width="1.45"/>
<circle cx="928.50" cy="703.12" r="3.95" fill="none" stroke="#111" stroke-width="1.45"/>
<path d="M1060.70,570.10C1060.77,571.27 1060.20,575.10 1061.10,577.10C1062.00,579.10 1063.60,580.43 1066.10,582.10C1068.60,583.77 1072.43,585.43 1076.10,587.10C1079.77,588.77 1084.77,590.27 1088.10,592.10C1091.43,593.93 1093.67,596.28 1096.10,598.10C1098.53,599.92 1100.43,601.63 1102.70,603.00C1104.97,604.37 1107.20,605.20 1109.70,606.30C1112.20,607.40 1115.45,608.57 1117.70,609.60C1119.95,610.63 1122.28,612.02 1123.20,612.50C1122.28,612.97 1120.62,614.32 1117.70,615.30C1114.78,616.28 1109.78,617.45 1105.70,618.40C1101.62,619.35 1096.95,619.98 1093.20,621.00C1089.45,622.02 1085.95,623.25 1083.20,624.50C1080.45,625.75 1078.32,627.25 1076.70,628.50C1075.08,629.75 1074.13,630.92 1073.50,632.00C1072.87,633.08 1072.38,633.88 1072.90,635.00C1073.42,636.12 1075.10,637.42 1076.60,638.70C1078.10,639.98 1080.57,641.53 1081.90,642.70C1083.23,643.87 1084.15,645.20 1084.60,645.70C1083.93,646.20 1082.15,647.75 1080.60,648.70C1079.05,649.65 1077.30,650.52 1075.30,651.40C1073.30,652.28 1070.38,653.12 1068.60,654.00C1066.82,654.88 1065.43,655.80 1064.60,656.70C1063.77,657.60 1063.60,658.52 1063.60,659.40C1063.60,660.28 1064.17,661.12 1064.60,662.00C1065.03,662.88 1065.85,663.80 1066.20,664.70C1066.55,665.60 1066.80,666.40 1066.70,667.40C1066.60,668.40 1066.18,669.60 1065.60,670.70C1065.02,671.80 1063.87,673.00 1063.20,674.00C1062.53,675.00 1061.99,675.80 1061.60,676.70C1061.21,677.60 1061.00,678.12 1060.85,679.40C1060.70,680.68 1060.73,683.57 1060.70,684.40C1060.67,683.57 1060.70,680.68 1060.55,679.40C1060.40,678.12 1060.19,677.60 1059.80,676.70C1059.41,675.80 1058.87,675.00 1058.20,674.00C1057.53,673.00 1056.38,671.80 1055.80,670.70C1055.22,669.60 1054.80,668.40 1054.70,667.40C1054.60,666.40 1054.85,665.60 1055.20,664.70C1055.55,663.80 1056.37,662.88 1056.80,662.00C1057.23,661.12 1057.80,660.28 1057.80,659.40C1057.80,658.52 1057.63,657.60 1056.80,656.70C1055.97,655.80 1054.58,654.88 1052.80,654.00C1051.02,653.12 1048.10,652.28 1046.10,651.40C1044.10,650.52 1042.35,649.65 1040.80,648.70C1039.25,647.75 1037.47,646.20 1036.80,645.70C1037.25,645.20 1038.17,643.87 1039.50,642.70C1040.83,641.53 1043.30,639.98 1044.80,638.70C1046.30,637.42 1047.98,636.12 1048.50,635.00C1049.02,633.88 1048.53,633.08 1047.90,632.00C1047.27,630.92 1046.32,629.75 1044.70,628.50C1043.08,627.25 1040.95,625.75 1038.20,624.50C1035.45,623.25 1031.95,622.02 1028.20,621.00C1024.45,619.98 1019.78,619.35 1015.70,618.40C1011.62,617.45 1006.62,616.28 1003.70,615.30C1000.78,614.32 999.12,612.97 998.20,612.50C999.12,612.02 1001.45,610.63 1003.70,609.60C1005.95,608.57 1009.20,607.40 1011.70,606.30C1014.20,605.20 1016.43,604.37 1018.70,603.00C1020.97,601.63 1022.87,599.92 1025.30,598.10C1027.73,596.28 1029.97,593.93 1033.30,592.10C1036.63,590.27 1041.63,588.77 1045.30,587.10C1048.97,585.43 1052.80,583.77 1055.30,582.10C1057.80,580.43 1059.40,579.10 1060.30,577.10C1061.20,575.10 1060.63,571.27 1060.70,570.10Z" fill="#fff" stroke="#000" stroke-width="2.65" stroke-linejoin="round" stroke-linecap="round"/>
<line x1="1025.30" y1="603.50" x2="1108.60" y2="603.50" stroke="#4a4a4a" stroke-width="1.25" stroke-dasharray="1.3,2.9"/>
<line x1="1000.02" y1="612.50" x2="1120.17" y2="612.50" stroke="#1a1a1a" stroke-width="1.35" stroke-dasharray="3.6,3.6"/>
<line x1="1048.08" y1="627.50" x2="1074.11" y2="627.50" stroke="#4a4a4a" stroke-width="1.25" stroke-dasharray="1.3,2.9"/>
<circle cx="1001.43" cy="601.70" r="3.95" fill="none" stroke="#111" stroke-width="1.45"/>
<circle cx="1001.43" cy="613.11" r="3.95" fill="none" stroke="#111" stroke-width="1.45"/>
<circle cx="1016.04" cy="602.10" r="3.95" fill="none" stroke="#111" stroke-width="1.45"/>
<circle cx="1016.04" cy="611.11" r="3.95" fill="none" stroke="#111" stroke-width="1.45"/>
<circle cx="1031.06" cy="591.09" r="3.95" fill="none" stroke="#111" stroke-width="1.45"/>
<circle cx="1031.06" cy="616.72" r="3.95" fill="none" stroke="#111" stroke-width="1.45"/>
<circle cx="1031.66" cy="640.74" r="3.95" fill="none" stroke="#111" stroke-width="1.45"/>
<circle cx="1045.68" cy="586.48" r="3.95" fill="none" stroke="#111" stroke-width="1.45"/>
<circle cx="1045.68" cy="597.09" r="3.95" fill="none" stroke="#111" stroke-width="1.45"/>
<circle cx="1045.68" cy="609.71" r="3.95" fill="none" stroke="#111" stroke-width="1.45"/>
<circle cx="1045.68" cy="618.12" r="3.95" fill="none" stroke="#111" stroke-width="1.45"/>
<circle cx="1045.68" cy="632.74" r="3.95" fill="none" stroke="#111" stroke-width="1.45"/>
<circle cx="1045.68" cy="648.15" r="3.95" fill="none" stroke="#111" stroke-width="1.45"/>
<circle cx="1060.70" cy="592.49" r="3.95" fill="none" stroke="#111" stroke-width="1.45"/>
<circle cx="1060.70" cy="609.11" r="3.95" fill="none" stroke="#111" stroke-width="1.45"/>
<circle cx="1060.70" cy="617.52" r="3.95" fill="none" stroke="#111" stroke-width="1.45"/>
<circle cx="1060.70" cy="627.13" r="3.95" fill="none" stroke="#111" stroke-width="1.45"/>
<circle cx="1060.70" cy="644.55" r="3.95" fill="none" stroke="#111" stroke-width="1.45"/>
<circle cx="1060.70" cy="667.18" r="3.95" fill="none" stroke="#111" stroke-width="1.45"/>
<circle cx="1076.12" cy="593.09" r="3.95" fill="none" stroke="#111" stroke-width="1.45"/>
<circle cx="1076.12" cy="605.50" r="3.95" fill="none" stroke="#111" stroke-width="1.45"/>
<circle cx="1076.12" cy="612.51" r="3.95" fill="none" stroke="#111" stroke-width="1.45"/>
<circle cx="1076.12" cy="623.12" r="3.95" fill="none" stroke="#111" stroke-width="1.45"/>
<circle cx="1076.12" cy="648.15" r="3.95" fill="none" stroke="#111" stroke-width="1.45"/>
<circle cx="1089.73" cy="597.69" r="3.95" fill="none" stroke="#111" stroke-width="1.45"/>
<circle cx="1089.73" cy="607.10" r="3.95" fill="none" stroke="#111" stroke-width="1.45"/>
<circle cx="1089.73" cy="615.11" r="3.95" fill="none" stroke="#111" stroke-width="1.45"/>
<circle cx="1089.73" cy="645.15" r="3.95" fill="none" stroke="#111" stroke-width="1.45"/>
<circle cx="1105.15" cy="604.10" r="3.95" fill="none" stroke="#111" stroke-width="1.45"/>
<circle cx="1105.15" cy="612.51" r="3.95" fill="none" stroke="#111" stroke-width="1.45"/>
<path d="M773.60,507.15V782.80H1156.70" fill="none" stroke="#000" stroke-width="2.7" stroke-linejoin="miter"/>
<path d="M772.25,784.15h2.7" stroke="#000" stroke-width="0"/>
<line x1="761.55" y1="508.50" x2="773.60" y2="508.50" stroke="#000" stroke-width="2.7"/>
<line x1="761.55" y1="577.10" x2="773.60" y2="577.10" stroke="#000" stroke-width="2.7"/>
<line x1="761.55" y1="645.60" x2="773.60" y2="645.60" stroke="#000" stroke-width="2.7"/>
<line x1="761.55" y1="714.20" x2="773.60" y2="714.20" stroke="#000" stroke-width="2.7"/>
<line x1="761.55" y1="782.80" x2="773.60" y2="782.80" stroke="#000" stroke-width="2.7"/>
<line x1="868.40" y1="782.80" x2="868.40" y2="794.85" stroke="#000" stroke-width="2.7"/>
<line x1="1060.70" y1="782.80" x2="1060.70" y2="794.85" stroke="#000" stroke-width="2.7"/>
<text transform="translate(716.39,517.20) scale(1.1318,1)" font-size="22.5" fill="#181818">150</text>
<text transform="translate(716.39,585.80) scale(1.1318,1)" font-size="22.5" fill="#181818">100</text>
<text transform="translate(731.10,654.30) scale(1.1079,1)" font-size="22.5" fill="#181818">50</text>
<text transform="translate(744.14,722.90) scale(1.1759,1)" font-size="22.5" fill="#181818">0</text>
<text transform="translate(723.92,791.50) scale(1.0712,1)" font-size="22.5" fill="#181818">-50</text>
<text transform="translate(832.22,824.00) scale(1.0093,1)" font-size="22" fill="#181818">Healthy</text>
<text transform="translate(830.08,851.00) scale(1.0484,1)" font-size="22" fill="#181818">controls</text>
<text transform="translate(1021.46,826.00) scale(0.9413,1)" font-size="22" fill="#181818">COVID-19</text>
<text transform="translate(1029.00,852.80) scale(1.0479,1)" font-size="22" fill="#181818">patients</text>
<text transform="translate(673.00,786.94) rotate(-90) scale(0.9881,1)" font-size="22" fill="#181818">Platelet-neutrophil complexes</text>
<text transform="translate(702.00,744.15) rotate(-90) scale(0.9534,1)" font-size="22" fill="#181818">CD66b+ - CD41+ (%)</text>
<path d="M1061.55,551.40 L1062.20,545.10 L1059.60,545.10 L1060.25,551.40Z" fill="#181818"/>
<circle cx="1060.90" cy="545.10" r="1.3" fill="#181818"/>
<path d="M1061.10,552.02 L1067.58,550.60 L1066.78,548.12 L1060.70,550.78Z" fill="#181818"/>
<circle cx="1067.18" cy="549.36" r="1.3" fill="#181818"/>
<path d="M1061.10,550.78 L1055.02,548.12 L1054.22,550.60 L1060.70,552.02Z" fill="#181818"/>
<circle cx="1054.62" cy="549.36" r="1.3" fill="#181818"/>
<path d="M1060.37,551.78 L1063.49,557.18 L1065.60,555.65 L1061.43,551.02Z" fill="#181818"/>
<circle cx="1064.54" cy="556.42" r="1.3" fill="#181818"/>
<path d="M1060.37,551.02 L1056.20,555.65 L1058.31,557.18 L1061.43,551.78Z" fill="#181818"/>
<circle cx="1057.26" cy="556.42" r="1.3" fill="#181818"/>
</svg>
</body></html>
